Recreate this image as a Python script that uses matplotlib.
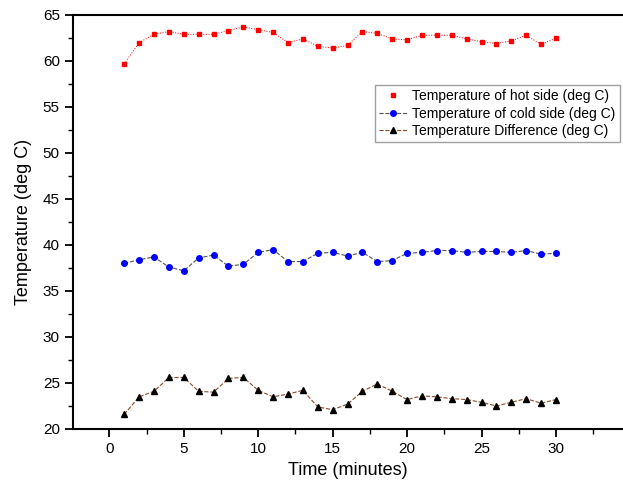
import matplotlib
matplotlib.use("Agg")
import matplotlib.pyplot as plt
from matplotlib.ticker import MultipleLocator

plt.rcParams["font.family"] = ["Liberation Sans", "DejaVu Sans"]

time_min = list(range(1, 31))
hot_side = [59.7, 62.0, 62.9, 63.2, 62.9, 62.9, 62.9, 63.3, 63.7, 63.4,
            63.1, 62.0, 62.4, 61.6, 61.4, 61.7, 63.2, 63.0, 62.4, 62.3,
            62.8, 62.8, 62.8, 62.4, 62.1, 61.9, 62.2, 62.8, 61.8, 62.5]
cold_side = [38.0, 38.4, 38.7, 37.6, 37.2, 38.6, 38.9, 37.7, 37.9, 39.2,
             39.5, 38.2, 38.2, 39.1, 39.2, 38.8, 39.2, 38.2, 38.3, 39.1,
             39.2, 39.4, 39.4, 39.2, 39.3, 39.3, 39.2, 39.4, 39.0, 39.1]
temp_diff = [21.6, 23.5, 24.1, 25.6, 25.6, 24.1, 24.0, 25.5, 25.6, 24.2,
             23.5, 23.8, 24.2, 22.4, 22.1, 22.7, 24.1, 24.9, 24.1, 23.2,
             23.6, 23.5, 23.3, 23.2, 22.9, 22.5, 22.9, 23.3, 22.8, 23.2]

fig = plt.figure(figsize=(6.23, 4.93), dpi=100)
ax = fig.add_axes([73 / 623, 64 / 493, 1 - 73 / 623, 414 / 493])

ax.plot(time_min, hot_side, color="red", linestyle=":", linewidth=0.7,
        marker="s", markersize=3.3, label="_nolegend_")
ax.plot([], [], color="red", linestyle="none", marker="s", markersize=3.3,
        label="Temperature of hot side (deg C)")
ax.plot(time_min, cold_side, color="#555555", linestyle="--", linewidth=0.8,
        marker="o", markersize=4, markerfacecolor="blue", markeredgecolor="blue",
        label="Temperature of cold side (deg C)")
ax.plot(time_min, temp_diff, color="#8a4a2a", linestyle="--", linewidth=0.8,
        marker="^", markersize=4.2, markerfacecolor="black", markeredgecolor="black",
        label="Temperature Difference (deg C)")

ax.set_xlim(-2.44, 34.5)
ax.set_ylim(20, 65)
ax.xaxis.set_minor_locator(MultipleLocator(2.5))
ax.yaxis.set_major_locator(MultipleLocator(5))
ax.yaxis.set_minor_locator(MultipleLocator(2.5))
ax.set_xticks([0, 5, 10, 15, 20, 25, 30])
ax.tick_params(which="major", direction="out", length=6, width=1.3, labelsize=11)
ax.tick_params(which="minor", direction="out", length=3.5, width=1.0)
for side in ["left", "bottom", "top"]:
    ax.spines[side].set_linewidth(1.5)
ax.spines["right"].set_visible(False)

ax.set_xlabel("Time (minutes)", fontsize=13)
ax.set_ylabel("Temperature (deg C)", fontsize=13, labelpad=8)

leg = fig.legend(loc="upper left", bbox_to_anchor=(375 / 623, 1 - 85 / 493),
                 fontsize=10, frameon=True, fancybox=False, borderaxespad=0,
                 handlelength=2.0, handletextpad=0.4, labelspacing=0.25,
                 borderpad=0.3)
leg.get_frame().set_edgecolor("#888888")
leg.get_frame().set_linewidth(1.0)

fig.savefig("out.png", dpi=100)
